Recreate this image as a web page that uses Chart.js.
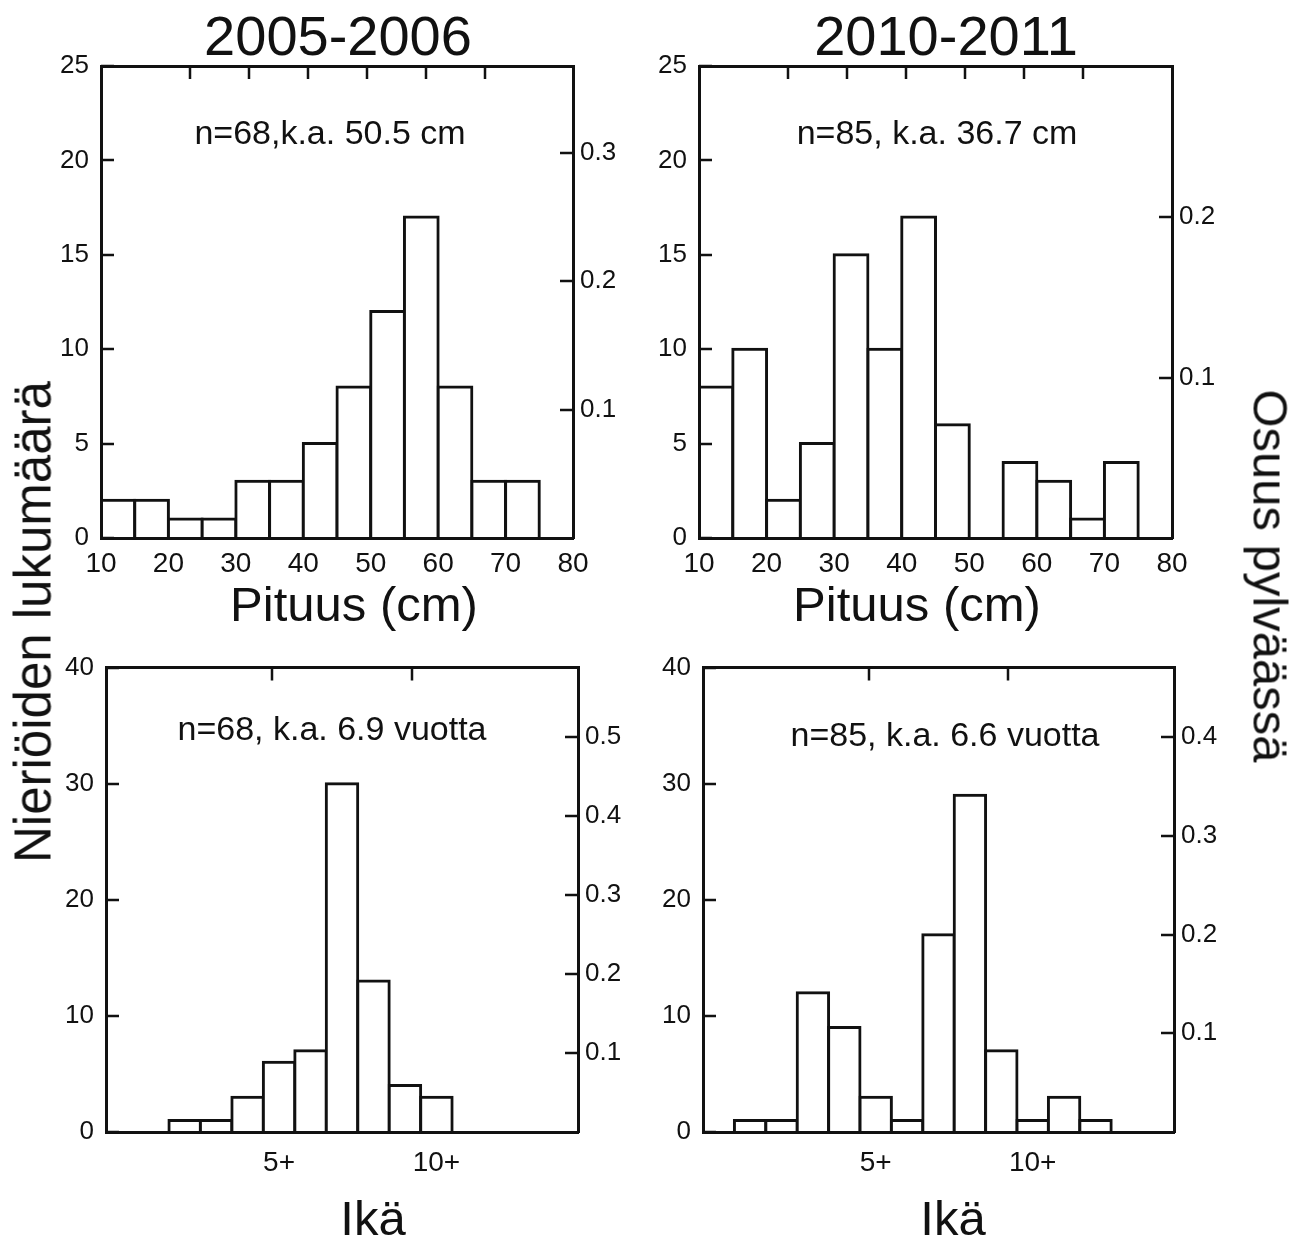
<!DOCTYPE html>
<html>
<head>
<meta charset="utf-8">
<script src="https://cdn.jsdelivr.net/npm/chart.js@4.4.1/dist/chart.umd.min.js"></script>
<style>
  body { margin: 0; background: #fff; width: 1298px; height: 1241px; overflow: hidden; position: relative;
         font-family: "Liberation Sans", Arial, sans-serif; color: #111; }
  canvas { position: absolute; }
  .txt { position: absolute; transform: translate(-50%, -50%); white-space: nowrap; line-height: 1; }
  .title { font-size: 56px; }
  .note { font-size: 34px; }
  .axis { font-size: 49px; }
</style>
</head>
<body>

<canvas id="tl" width="640" height="640" style="left:0;top:0"></canvas>
<canvas id="tr" width="658" height="640" style="left:640px;top:0"></canvas>
<canvas id="bl" width="640" height="601" style="left:0;top:640px"></canvas>
<canvas id="br" width="658" height="601" style="left:640px;top:640px"></canvas>

<div class="txt title" style="left:338px;top:36px">2005-2006</div>
<div class="txt title" style="left:946px;top:36px">2010-2011</div>
<div class="txt note" style="left:330px;top:132px">n=68,k.a. 50.5 cm</div>
<div class="txt note" style="left:937px;top:132px">n=85, k.a. 36.7 cm</div>
<div class="txt note" style="left:332px;top:728px">n=68, k.a. 6.9 vuotta</div>
<div class="txt note" style="left:945px;top:734px">n=85, k.a. 6.6 vuotta</div>
<div class="txt axis" style="left:354px;top:604px">Pituus (cm)</div>
<div class="txt axis" style="left:917px;top:604px">Pituus (cm)</div>
<div class="txt axis" style="left:373px;top:1218px">Ikä</div>
<div class="txt axis" style="left:953px;top:1218px">Ikä</div>
<div class="txt axis" style="left:33px;top:622px;font-size:51px;transform:translate(-50%,-50%) rotate(-90deg)">Nieriöiden lukumäärä</div>
<div class="txt axis" style="left:1270px;top:576px;transform:translate(-50%,-50%) rotate(90deg)">Osuus pylväässä</div>

<script>
// ── data ──
const lengthBinStarts = [10, 15, 20, 25, 30, 35, 40, 45, 50, 55, 60, 65, 70];
const lengthCounts0506 = [2, 2, 1, 1, 3, 3, 5, 8, 12, 17, 8, 3, 3];
const lengthCounts1011 = [8, 10, 2, 5, 15, 10, 17, 6, 0, 4, 3, 1, 4];

const ageBinStarts0506 = [2, 3, 4, 5, 6, 7, 8, 9, 10];
const ageCounts0506 = [1, 1, 3, 6, 7, 30, 13, 4, 3];
const ageBinStarts1011 = [1, 2, 3, 4, 5, 6, 7, 8, 9, 10, 11, 12];
const ageCounts1011 = [1, 1, 12, 9, 3, 1, 17, 29, 7, 1, 3, 1];

const n0506 = 68;
const n1011 = 85;

// ── tick labels ──
const lengthTicks = [10, 20, 30, 40, 50, 60, 70, 80];
const lengthInnerTicks = [20, 30, 40, 50, 60, 70];
const lengthCountTicks = [0, 5, 10, 15, 20, 25];
const ageCountTicks = [0, 10, 20, 30, 40];
const ageClassTicks = [5, 10];
const ageClassLabels = ['5+', '10+'];
const shareTicksLen0506 = [0.1, 0.2, 0.3];
const shareTicksLen1011 = [0.1, 0.2];
const shareTicksAge0506 = [0.1, 0.2, 0.3, 0.4, 0.5];
const shareTicksAge1011 = [0.1, 0.2, 0.3, 0.4];

const INK = '#111';
const FONT = 'Liberation Sans';

// inward tick marks, like the original plotting program draws them
const innerTicks = {
    id: 'innerTicks',
    afterDraw(chart, args, opts) {
        const { ctx, chartArea: a, scales } = chart;
        ctx.save();
        ctx.strokeStyle = INK;
        ctx.lineWidth = 2.5;
        ctx.beginPath();
        (opts.x2 || []).forEach(v => {
            const px = Math.round(scales.x2.getPixelForValue(v));
            ctx.moveTo(px, a.top); ctx.lineTo(px, a.top + opts.len);
        });
        (opts.y || []).forEach(v => {
            const py = Math.round(scales.y.getPixelForValue(v));
            ctx.moveTo(a.left, py); ctx.lineTo(a.left + opts.len, py);
        });
        (opts.y2 || []).forEach(v => {
            const py = Math.round(scales.y2.getPixelForValue(v));
            ctx.moveTo(a.right, py); ctx.lineTo(a.right - opts.len, py);
        });
        ctx.stroke();
        ctx.restore();
    }
};

function frame() {
    return { display: true, color: INK, width: 3, z: 1 };
}

function makePanel(id, p) {
    const bars = p.starts.map((s, i) => ({ x: s + p.binW / 2, y: p.counts[i] }));
    const box = p.box;
    return new Chart(document.getElementById(id), {
        type: 'bar',
        data: {
            datasets: [{
                data: bars,
                backgroundColor: '#fff',
                borderColor: INK,
                borderWidth: 3,
                inflateAmount: 1.5,
                barPercentage: 1,
                categoryPercentage: 1,
                borderSkipped: 'start'
            }]
        },
        options: {
            responsive: false,
            animation: false,
            events: [],
            layout: { autoPadding: false, padding: 0 },
            plugins: {
                legend: { display: false },
                tooltip: { enabled: false },
                innerTicks: { len: 13, x2: p.innerX, y: p.yTicks, y2: p.shareTicks }
            },
            scales: {
                x: {
                    type: 'linear', position: 'bottom', min: p.xMin, max: p.xMax, offset: false,
                    grid: { display: false, drawTicks: false },
                    border: frame(),
                    afterFit: s => { s.height = box.bottom; },
                    afterBuildTicks: s => { s.ticks = p.xLabelPos.map(v => ({ value: v })); },
                    ticks: {
                        autoSkip: false, maxRotation: 0, padding: p.xPad, color: INK,
                        font: { family: FONT, size: 28 },
                        callback: (v, i) => p.xLabels[i]
                    }
                },
                x2: {
                    type: 'linear', position: 'top', min: p.xMin, max: p.xMax,
                    grid: { display: false, drawTicks: false },
                    border: frame(),
                    ticks: { display: false },
                    afterFit: s => { s.height = box.top; }
                },
                y: {
                    type: 'linear', position: 'left', min: 0, max: p.yMax,
                    grid: { display: false, drawTicks: false },
                    border: frame(),
                    afterFit: s => { s.width = box.left; },
                    afterBuildTicks: s => { s.ticks = p.yTicks.map(v => ({ value: v })); },
                    ticks: { padding: 12, color: INK, font: { family: FONT, size: 26 } }
                },
                y2: {
                    type: 'linear', position: 'right', min: 0, max: p.yMax / p.n,
                    grid: { display: false, drawTicks: false },
                    border: frame(),
                    afterFit: s => { s.width = box.right; },
                    afterBuildTicks: s => { s.ticks = p.shareTicks.map(v => ({ value: v })); },
                    ticks: {
                        padding: 7, color: INK, font: { family: FONT, size: 26 },
                        callback: v => v.toFixed(1)
                    }
                }
            }
        },
        plugins: [innerTicks]
    });
}

const lengthPanel = {
    starts: lengthBinStarts, binW: 5, xMin: 10, xMax: 80,
    xLabelPos: lengthTicks, xLabels: lengthTicks.map(String), xPad: 9,
    innerX: lengthInnerTicks, yMax: 25, yTicks: lengthCountTicks
};
const agePanel = {
    binW: 1, xMin: 0, xMax: 15,
    xLabelPos: ageClassTicks.map(a => a + 0.5), xLabels: ageClassLabels, xPad: 14,
    innerX: ageClassTicks, yMax: 40, yTicks: ageCountTicks
};

makePanel('tl', Object.assign({}, lengthPanel, {
    counts: lengthCounts0506, n: n0506, shareTicks: shareTicksLen0506,
    box: { left: 101, right: 640 - 573, top: 66, bottom: 640 - 538 }
}));
makePanel('tr', Object.assign({}, lengthPanel, {
    counts: lengthCounts1011, n: n1011, shareTicks: shareTicksLen1011,
    box: { left: 59, right: 658 - 1172 + 640, top: 66, bottom: 640 - 538 }
}));
makePanel('bl', Object.assign({}, agePanel, {
    starts: ageBinStarts0506, counts: ageCounts0506, n: n0506, shareTicks: shareTicksAge0506,
    box: { left: 106, right: 640 - 578, top: 21, bottom: 601 - 492 }
}));
makePanel('br', Object.assign({}, agePanel, {
    starts: ageBinStarts1011, counts: ageCounts1011, n: n1011, shareTicks: shareTicksAge1011,
    box: { left: 63, right: 658 - 534, top: 21, bottom: 601 - 492 }
}));
</script>
</body>
</html>
